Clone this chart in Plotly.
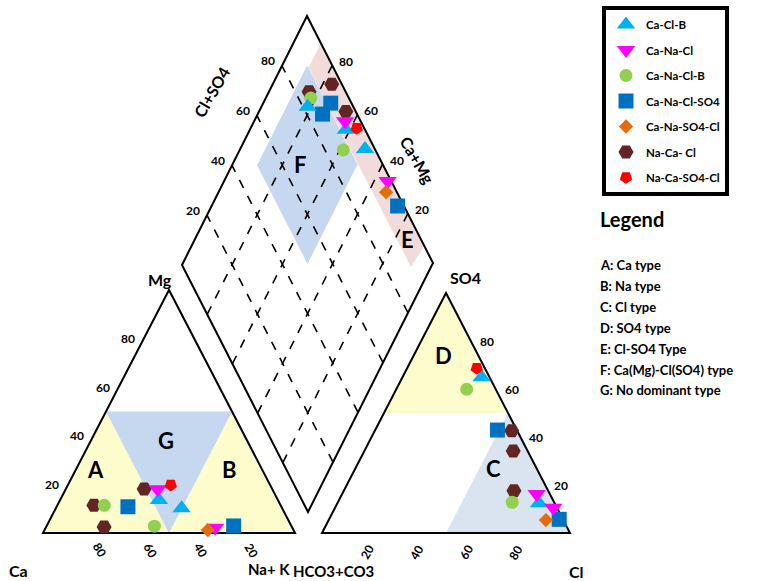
import plotly.graph_objects as go

W, H = 773, 581

# ---------------- data ----------------
series_names = ["Ca-Cl-B", "Ca-Na-Cl", "Ca-Na-Cl-B", "Ca-Na-Cl-SO4",
                "Ca-Na-SO4-Cl", "Na-Ca- Cl", "Na-Ca-SO4-Cl"]

# cation triangle (Mg %, Na+K %)
cat_mg = [[13.6, 10.2], [18.0, 2.2], [11.4, 2.8], [10.8, 2.9], [1.2],
          [18.1, 11.4, 2.5], [19.8]]
cat_na = [[39.2, 49.9], [36.5, 67.2], [18.6, 42.8], [28.3, 74.2], [64.8],
          [31.1, 14.5, 23.0], [40.8]]

# anion triangle (SO4 %, Cl %)
an_so4 = [[64.9, 12.4], [16.3, 10.5], [59.9, 12.8], [42.9, 5.7], [5.4],
          [42.6, 34.2, 17.6], [68.6]]
an_cl = [[31.9, 81.3], [78.4, 88.0], [28.4, 70.3], [49.3, 92.8], [87.6],
         [55.2, 60.0, 68.6], [28.1]]

# diamond (Ca+Mg %, Cl+SO4 %)
dia_camg = [[81.5, 61.6, 50.1], [63.6, 34.6], [82.0, 58.6], [73.0, 74.1, 25.6],
            [33.0], [84.0, 76.4, 65.3], [57.6]]
dia_clso4 = [[81.9, 92.4, 96.1], [93.8, 98.6], [84.9, 87.3], [91.8, 86.3, 97.5],
             [95.7], [85.5, 96.0, 96.1], [97.0]]

tick_values = [20, 40, 60, 80]
type_legend = ["A: Ca type", "B: Na type", "C: Cl type", "D: SO4 type",
               "E: Cl-SO4 Type", "F: Ca(Mg)-Cl(SO4) type", "G: No dominant type"]

# ---------------- styles ----------------
sym = ["triangle-up", "triangle-down", "circle", "square", "diamond", "hexagon2", "pentagon"]
col = ["#00B0F0", "#FF00FF", "#92D050", "#0070C0", "#E46C0A", "#632523", "#FF0000"]
msize = [16, 16, 13, 15, 11, 15, 13]
mangle = [0, 0, 0, 0, 0, 0, 180]
draw_order = [5, 2, 3, 0, 1, 4, 6]

# geometry (plot coordinates)
CA, NA, MG = (43, 533), (295, 533), (169, 290)
HC, CL, SO = (322, 533), (570, 533), (446, 293)
DB, DL, DR = (308, 512), (182, 265), (433, 263)


def cat_xy(mg, na):
    ca = 100 - mg - na
    return ((ca * CA[0] + na * NA[0] + mg * MG[0]) / 100,
            (ca * CA[1] + na * NA[1] + mg * MG[1]) / 100)


def an_xy(so4, cl):
    hc = 100 - so4 - cl
    return ((hc * HC[0] + cl * CL[0] + so4 * SO[0]) / 100,
            (hc * HC[1] + cl * CL[1] + so4 * SO[1]) / 100)


def dia_xy(cm, cs):
    c, s = cm / 100, cs / 100
    return (DB[0] + c * (DL[0] - DB[0]) + s * (DR[0] - DB[0]),
            DB[1] + c * (DL[1] - DB[1]) + s * (DR[1] - DB[1]))


def path(pts):
    return "M " + " L ".join(f"{x:.2f},{y:.2f}" for x, y in pts) + " Z"


fig = go.Figure()

YEL = "#FCFCCD"
BLU = "#C6D7F0"
BLU2 = "#DAE3F0"
PNK = "#F2DCDB"

shapes = []
# cation regions
shapes.append(dict(type="path", path=path([CA, NA, cat_xy(50, 50), cat_xy(50, 0)]),
                   fillcolor=YEL, line=dict(width=0), layer="below"))
shapes.append(dict(type="path", path=path([cat_xy(50, 0), cat_xy(50, 50), cat_xy(0, 50)]),
                   fillcolor=BLU, line=dict(width=0), layer="below"))
# anion regions
shapes.append(dict(type="path", path=path([SO, an_xy(50, 0), an_xy(50, 50)]),
                   fillcolor=YEL, line=dict(width=0), layer="below"))
shapes.append(dict(type="path", path=path([an_xy(0, 50), CL, an_xy(50, 50)]),
                   fillcolor=BLU2, line=dict(width=0), layer="below"))
# diamond regions
shapes.append(dict(type="path", path=path([dia_xy(50, 50), dia_xy(90, 50), dia_xy(90, 90), dia_xy(50, 90)]),
                   fillcolor=BLU, line=dict(width=0), layer="below"))
shapes.append(dict(type="path", path=path([dia_xy(89, 90), dia_xy(89, 99.5), dia_xy(7, 99.5), dia_xy(8, 90.5)]),
                   fillcolor=PNK, line=dict(width=0), layer="below"))
# diamond dashed grid
for v in tick_values:
    for a, b in [(dia_xy(v, 0), dia_xy(v, 100)), (dia_xy(0, v), dia_xy(100, v))]:
        shapes.append(dict(type="line", x0=a[0], y0=a[1], x1=b[0], y1=b[1],
                           line=dict(color="black", width=1.6, dash="dash"), layer="below"))
# frames
for pts in [[CA, NA, MG], [HC, CL, SO], [DB, DR, dia_xy(100, 100), DL]]:
    shapes.append(dict(type="path", path=path(pts), line=dict(color="black", width=2),
                       fillcolor="rgba(0,0,0,0)", layer="below"))

# data traces
for i in draw_order:
    xs, ys = [], []
    for mg, na in zip(cat_mg[i], cat_na[i]):
        x, y = cat_xy(mg, na); xs.append(x); ys.append(y)
    for so4, cl in zip(an_so4[i], an_cl[i]):
        x, y = an_xy(so4, cl); xs.append(x); ys.append(y)
    for cm, cs in zip(dia_camg[i], dia_clso4[i]):
        x, y = dia_xy(cm, cs); xs.append(x); ys.append(y)
    fig.add_trace(go.Scatter(
        x=xs, y=ys, mode="markers", name="<b>" + series_names[i] + "</b>",
        legendrank=i + 1, legendgroup=series_names[i],
        marker=dict(symbol=sym[i], color=col[i], size=msize[i], angle=mangle[i],
                    line=dict(width=0)),
        hoverinfo="skip"))

ann = []


def add_text(x, y, t, size=12, angle=0, xanchor="center"):
    ann.append(dict(x=x, y=y, text="<b>" + t + "</b>", showarrow=False, textangle=angle,
                    xanchor=xanchor, yanchor="middle",
                    font=dict(family="Lato", size=size, color="black")))


for v in tick_values:
    # cation: Mg on left edge, Ca on base
    x, y = cat_xy(v, 0); add_text(x - 16, y, str(v))
    x, y = cat_xy(0, 100 - v); add_text(x + 7, y + 17, str(v), angle=60)
    # anion: SO4 on right edge, Cl on base
    x, y = an_xy(v, 100 - v); add_text(x + 16, y, str(v))
    x, y = an_xy(0, v); add_text(x - 5, y + 19, str(v), angle=-60)
    # diamond
    x, y = dia_xy(100, v); add_text(x - 14, y - 5, str(v))
    x, y = dia_xy(v, 100); add_text(x + 14, y - 4, str(v))

# corner labels
add_text(18, 570, "Ca", size=16)
add_text(292, 569, "Na+ K", size=15, xanchor="right")
add_text(160, 279, "Mg", size=16)
add_text(465, 277, "SO4", size=16)
add_text(291, 571, "HCO3+CO3", size=15, xanchor="left")
add_text(576, 571, "Cl", size=16)
add_text(211, 92, "Cl+SO4", size=16, angle=-60)
add_text(418, 160, "Ca+Mg", size=16, angle=60)

# region labels
for t, (x, y) in zip("ABGCDEF", [cat_xy(26, 8), cat_xy(26, 61), cat_xy(38, 30),
                                 an_xy(27, 55.5), an_xy(74, 12), dia_xy(15, 94.7), dia_xy(73, 67)]):
    add_text(x, y, t, size=22)

# type legend text
add_text(598, 219, "Legend", size=20, xanchor="left")
for k, t in enumerate(type_legend):
    add_text(598, 265 + k * 20.9, t, size=13, xanchor="left")

fig.update_layout(
    width=W, height=H, margin=dict(l=0, r=0, t=0, b=0),
    paper_bgcolor="white", plot_bgcolor="white",
    xaxis=dict(range=[0, W], visible=False, fixedrange=True),
    yaxis=dict(range=[H, 0], visible=False, fixedrange=True),
    shapes=shapes, annotations=ann,
    legend=dict(x=602 / W, y=1 - 6 / H, xanchor="left", yanchor="top",
                bordercolor="black", borderwidth=4, bgcolor="white",
                font=dict(family="Lato", size=11.5, color="black"),
                tracegroupgap=6.5, itemwidth=30),
    showlegend=True,
)

fig.write_html("out.html", config={"displayModeBar": False},
               post_script="document.body.style.margin='0';")
